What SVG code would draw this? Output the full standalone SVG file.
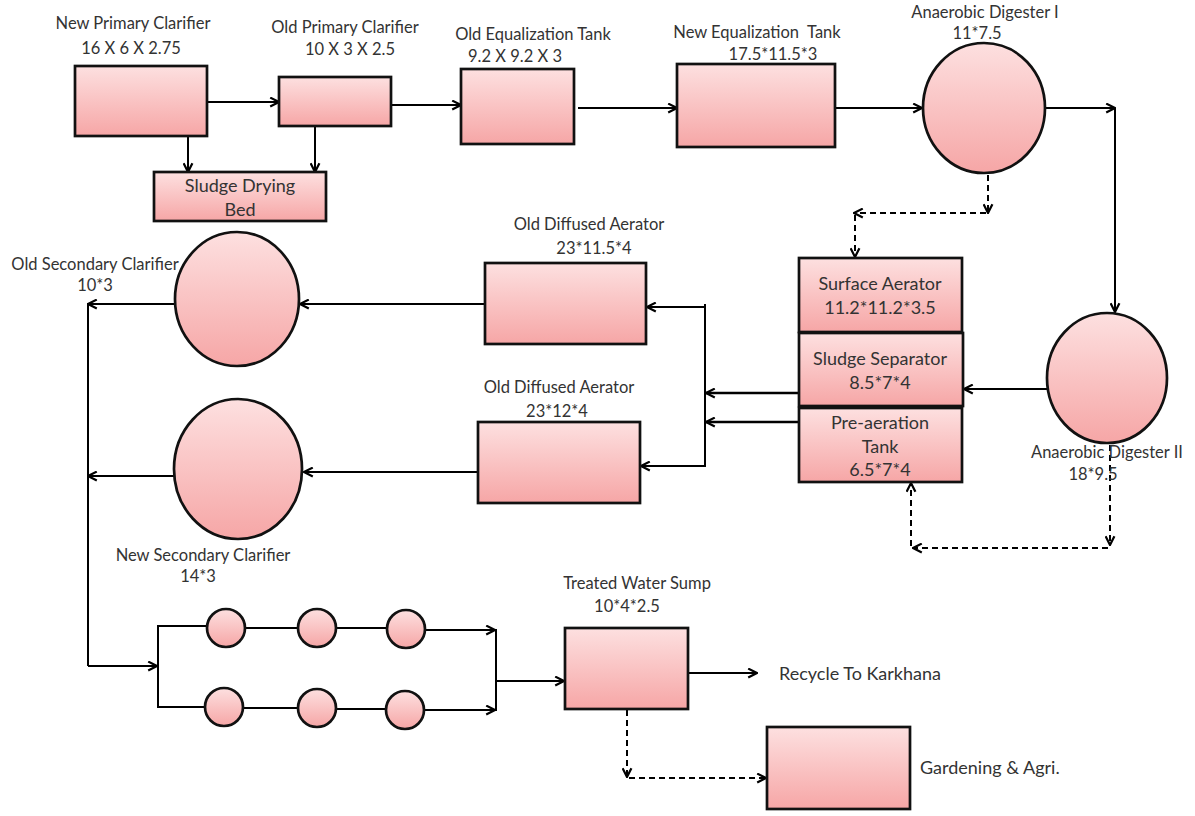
<svg xmlns="http://www.w3.org/2000/svg" width="1195" height="816" viewBox="0 0 1195 816">
<defs>
<linearGradient id="pk" x1="0" y1="0" x2="0" y2="1">
<stop offset="0" stop-color="#fde0e0"/>
<stop offset="1" stop-color="#f6a6a6"/>
</linearGradient>
<marker id="ah" viewBox="0 0 10 10" refX="9" refY="5" markerWidth="11" markerHeight="11" markerUnits="userSpaceOnUse" orient="auto">
<path d="M1,1 L9,5 L1,9" fill="none" stroke="#000" stroke-width="2"/>
</marker>
</defs>
<style>
.n{fill:url(#pk);stroke:#111;stroke-width:2.7}
.t{font-family:Lato,"Open Sans","Liberation Sans",sans-serif;font-size:16.5px;fill:#333;text-anchor:middle}
.tb{font-family:Lato,"Open Sans","Liberation Sans",sans-serif;font-size:18px;fill:#333;text-anchor:middle}
.tl{font-family:Lato,"Open Sans","Liberation Sans",sans-serif;font-size:18px;fill:#333;text-anchor:start}
.c{fill:none;stroke:#000;stroke-width:2;marker-end:url(#ah)}
.l{fill:none;stroke:#000;stroke-width:2}
.d{fill:none;stroke:#000;stroke-width:2;stroke-dasharray:6 4;marker-end:url(#ah)}
</style>
<rect width="1195" height="816" fill="#fff"/>

<g id="connectors">
<path class="c" d="M207,102 H279"/>
<path class="c" d="M391,105 H461"/>
<path class="c" d="M578,108 H677"/>
<path class="c" d="M835,108 H922"/>
<path class="c" d="M188,136 V172"/>
<path class="c" d="M315,126 V172"/>
<path class="c" d="M1045,108 H1115"/>
<path class="c" d="M1115,108 V312"/>
<path class="d" d="M988,175 V213"/>
<path class="d" d="M986,213 H854"/>
<path class="d" d="M855,215 V257"/>
<path class="c" d="M1047,389 H964"/>
<path class="c" style="stroke-width:2.5" d="M799,393 H706"/>
<path class="c" style="stroke-width:2.5" d="M799,422 H706"/>
<path class="l" d="M705,304 V467"/>
<path class="c" d="M705,307 H647"/>
<path class="c" d="M705,466 H641"/>
<path class="c" d="M485,304 H300"/>
<path class="c" d="M478,472 H304"/>
<path class="c" d="M175,304 H88"/>
<path class="c" d="M174,476 H88"/>
<path class="l" d="M88,303 V666"/>
<path class="c" d="M88,666 H157"/>
<path class="l" d="M158,625 V708"/>
<path class="l" d="M158,626 H207"/>
<path class="l" d="M245,628 H298"/>
<path class="l" d="M336,628 H387"/>
<path class="c" d="M425,630 H495"/>
<path class="l" d="M158,707 H205"/>
<path class="l" d="M243,708 H298"/>
<path class="l" d="M336,709 H386"/>
<path class="c" d="M424,710 H495"/>
<path class="l" d="M496,629 V711"/>
<path class="c" d="M496,681 H564"/>
<path class="c" d="M688,673 H757"/>
<path class="d" d="M1110,445 V545"/>
<path class="d" d="M1108,548 H913"/>
<path class="d" d="M911,546 V483"/>
<path class="d" d="M627,710 V777"/>
<path class="d" d="M629,778 H766"/>
</g>

<g id="new-primary-clarifier">
<rect class="n" x="75" y="66" width="132" height="70"/>
<text class="t" x="133" y="29">New Primary Clarifier</text>
<text class="t" x="131" y="54">16 X 6 X 2.75</text>
</g>
<g id="old-primary-clarifier">
<rect class="n" x="279" y="77" width="112" height="49"/>
<text class="t" x="345" y="33">Old Primary Clarifier</text>
<text class="t" x="350" y="55">10 X 3 X 2.5</text>
</g>
<g id="sludge-drying-bed">
<rect class="n" x="154" y="172" width="172" height="49"/>
<text class="tb" x="240" y="192">Sludge Drying</text>
<text class="tb" x="240" y="216">Bed</text>
</g>
<g id="old-equalization-tank">
<rect class="n" x="461" y="69" width="113" height="75"/>
<text class="t" x="533" y="40">Old Equalization Tank</text>
<text class="t" x="515" y="62">9.2 X 9.2 X 3</text>
</g>
<g id="new-equalization-tank">
<rect class="n" x="677" y="64" width="158" height="83"/>
<text class="t" x="757" y="38" xml:space="preserve">New Equalization  Tank</text>
<text class="t" x="773" y="60">17.5*11.5*3</text>
</g>
<g id="anaerobic-digester-1">
<ellipse class="n" cx="984" cy="108" rx="61" ry="65"/>
<text class="t" x="985" y="18">Anaerobic Digester I</text>
<text class="t" x="977" y="39">11*7.5</text>
</g>
<g id="surface-aerator">
<rect class="n" x="799" y="258" width="163" height="74"/>
<text class="tb" x="880" y="290">Surface Aerator</text>
<text class="tb" x="880" y="314">11.2*11.2*3.5</text>
</g>
<g id="sludge-separator">
<rect class="n" x="799" y="333" width="164" height="73"/>
<text class="tb" x="880" y="365">Sludge Separator</text>
<text class="tb" x="880" y="389">8.5*7*4</text>
</g>
<g id="pre-aeration-tank">
<rect class="n" x="799" y="408" width="163" height="74"/>
<text class="tb" x="880" y="429">Pre-aeration</text>
<text class="tb" x="880" y="453">Tank</text>
<text class="tb" x="880" y="476">6.5*7*4</text>
</g>
<g id="anaerobic-digester-2">
<ellipse class="n" cx="1107" cy="378" rx="60" ry="65"/>
<text class="t" x="1107" y="458">Anaerobic Digester II</text>
<text class="t" x="1093" y="480">18*9.5</text>
</g>
<g id="old-diffused-aerator-1">
<rect class="n" x="485" y="263" width="161" height="81"/>
<text class="t" x="589" y="230">Old Diffused Aerator</text>
<text class="t" x="594" y="254">23*11.5*4</text>
</g>
<g id="old-diffused-aerator-2">
<rect class="n" x="478" y="422" width="162" height="81"/>
<text class="t" x="559" y="393">Old Diffused Aerator</text>
<text class="t" x="557" y="417">23*12*4</text>
</g>
<g id="old-secondary-clarifier">
<ellipse class="n" cx="237" cy="299" rx="62" ry="67"/>
<text class="t" x="95" y="270">Old Secondary Clarifier</text>
<text class="t" x="95" y="291">10*3</text>
</g>
<g id="new-secondary-clarifier">
<ellipse class="n" cx="238" cy="469" rx="64" ry="70"/>
<text class="t" x="203" y="561">New Secondary Clarifier</text>
<text class="t" x="198" y="582">14*3</text>
</g>
<g id="filter-row-1">
<circle class="n" cx="226" cy="628" r="19"/>
<circle class="n" cx="317" cy="628" r="19"/>
<circle class="n" cx="406" cy="629" r="19"/>
</g>
<g id="filter-row-2">
<circle class="n" cx="224" cy="707" r="19"/>
<circle class="n" cx="317" cy="708" r="19"/>
<circle class="n" cx="405" cy="710" r="19"/>
</g>
<g id="treated-water-sump">
<rect class="n" x="565" y="628" width="123" height="81"/>
<text class="t" x="637" y="589">Treated Water Sump</text>
<text class="t" x="627" y="612">10*4*2.5</text>
</g>
<g id="recycle-label">
<text class="tl" x="779" y="680">Recycle To Karkhana</text>
</g>
<g id="gardening">
<rect class="n" x="767" y="727" width="143" height="82"/>
<text class="tl" x="920" y="774">Gardening &amp; Agri.</text>
</g>
</svg>
